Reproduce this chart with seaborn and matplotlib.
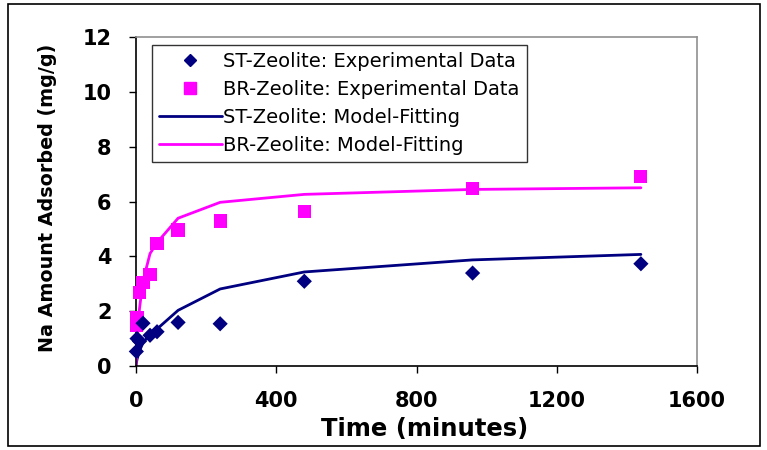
import matplotlib
matplotlib.use("Agg")
import matplotlib.pyplot as plt
from matplotlib.patches import Rectangle
from matplotlib.lines import Line2D
import seaborn as sns
import pandas as pd

# Sampling times (minutes)
t_exp = [1, 3, 10, 20, 40, 60, 120, 240, 480, 960, 1440]
t_model = [0, 1, 3, 10, 20, 40, 60, 120, 240, 480, 960, 1440]

# Na uptake (mg/g)
st_exp = [0.53, 1.00, 0.90, 1.56, 1.12, 1.25, 1.59, 1.54, 3.09, 3.39, 3.73]
br_exp = [1.47, 1.75, 2.69, 3.05, 3.35, 4.47, 4.96, 5.29, 5.63, 6.46, 6.90]
st_model = [0.00, 0.10, 0.25, 0.55, 0.85, 1.15, 1.35, 2.03, 2.81, 3.43, 3.87, 4.07]
br_model = [0.00, 0.30, 0.90, 2.10, 3.10, 4.10, 4.50, 5.39, 5.97, 6.26, 6.44, 6.50]

labels = ["ST-Zeolite: Experimental Data", "BR-Zeolite: Experimental Data",
          "ST-Zeolite: Model-Fitting", "BR-Zeolite: Model-Fitting"]
x_ticks = [0, 400, 800, 1200, 1600]
y_ticks = [0, 2, 4, 6, 8, 10, 12]

NAVY = "#000080"
MAGENTA = "#FF00FF"

sns.set_theme(style="white")
plt.rcParams["font.family"] = ["DejaVu Sans"]
plt.rcParams.update({
    "text.color": "black",
    "axes.labelcolor": "black",
    "xtick.color": "black",
    "ytick.color": "black",
})

exp_df = pd.DataFrame({
    "t": t_exp * 2,
    "q": st_exp + br_exp,
    "series": [labels[0]] * len(t_exp) + [labels[1]] * len(t_exp),
})
model_df = pd.DataFrame({
    "t": t_model * 2,
    "q": st_model + br_model,
    "series": [labels[2]] * len(t_model) + [labels[3]] * len(t_model),
})

fig = plt.figure(figsize=(7.67, 4.5), dpi=100)
W, H = 767, 450
ax = fig.add_axes([136 / W, (H - 366) / H, 561 / W, 329 / H])

sns.lineplot(data=model_df, x="t", y="q", hue="series",
             palette={labels[2]: NAVY, labels[3]: MAGENTA},
             linewidth=2, ax=ax, legend=False, estimator=None, sort=False)

sns.scatterplot(data=exp_df[exp_df.series == labels[0]], x="t", y="q",
                color=NAVY, marker="D", s=60, edgecolor="none",
                ax=ax, clip_on=False, zorder=4)
sns.scatterplot(data=exp_df[exp_df.series == labels[1]], x="t", y="q",
                color=MAGENTA, marker="s", s=90, edgecolor="none",
                ax=ax, clip_on=False, zorder=3)

ax.set_xlim(0, 1600)
ax.set_ylim(0, 12)
ax.set_xticks(x_ticks)
ax.set_yticks(y_ticks)
ax.set_xticklabels([str(v) for v in x_ticks], fontsize=15, fontweight="bold")
ax.set_yticklabels([str(v) for v in y_ticks], fontsize=15, fontweight="bold")
ax.tick_params(axis="both", direction="out", length=5, width=1,
               bottom=True, left=True)
ax.tick_params(axis="x", pad=13)
ax.tick_params(axis="y", pad=12.5)

ax.set_xlabel("Time (minutes)", fontsize=17.5, fontweight="bold")
ax.xaxis.set_label_coords(0.515, -0.155)
ax.set_ylabel("Na Amount Adsorbed (mg/g)", fontsize=13.8, fontweight="bold")
ax.yaxis.set_label_coords(-0.141, 0.512)

for side in ("left", "bottom"):
    ax.spines[side].set_color("black")
    ax.spines[side].set_linewidth(1.2)
for side in ("top", "right"):
    ax.spines[side].set_color("#909090")
    ax.spines[side].set_linewidth(1.2)
ax.grid(False)

handles = [
    Line2D([], [], linestyle="none", marker="D", color=NAVY, markersize=6.5),
    Line2D([], [], linestyle="none", marker="s", color=MAGENTA, markersize=8),
    Line2D([], [], color=NAVY, linewidth=2),
    Line2D([], [], color=MAGENTA, linewidth=2),
]
leg = ax.legend(handles, labels, loc="upper left",
                bbox_to_anchor=(0.0285, 0.976), fontsize=14,
                frameon=True, fancybox=False, edgecolor="black",
                handlelength=3.2, handletextpad=0.08, labelspacing=0.45,
                borderpad=0.38, borderaxespad=0)
leg.get_frame().set_linewidth(1)

# Outer border around the whole figure
fig.patches.append(Rectangle((8 / W, 4 / H), (760 - 8) / W, (446 - 4) / H,
                             transform=fig.transFigure, fill=False,
                             edgecolor="black", linewidth=1.2))

fig.savefig("out.png", dpi=100)
